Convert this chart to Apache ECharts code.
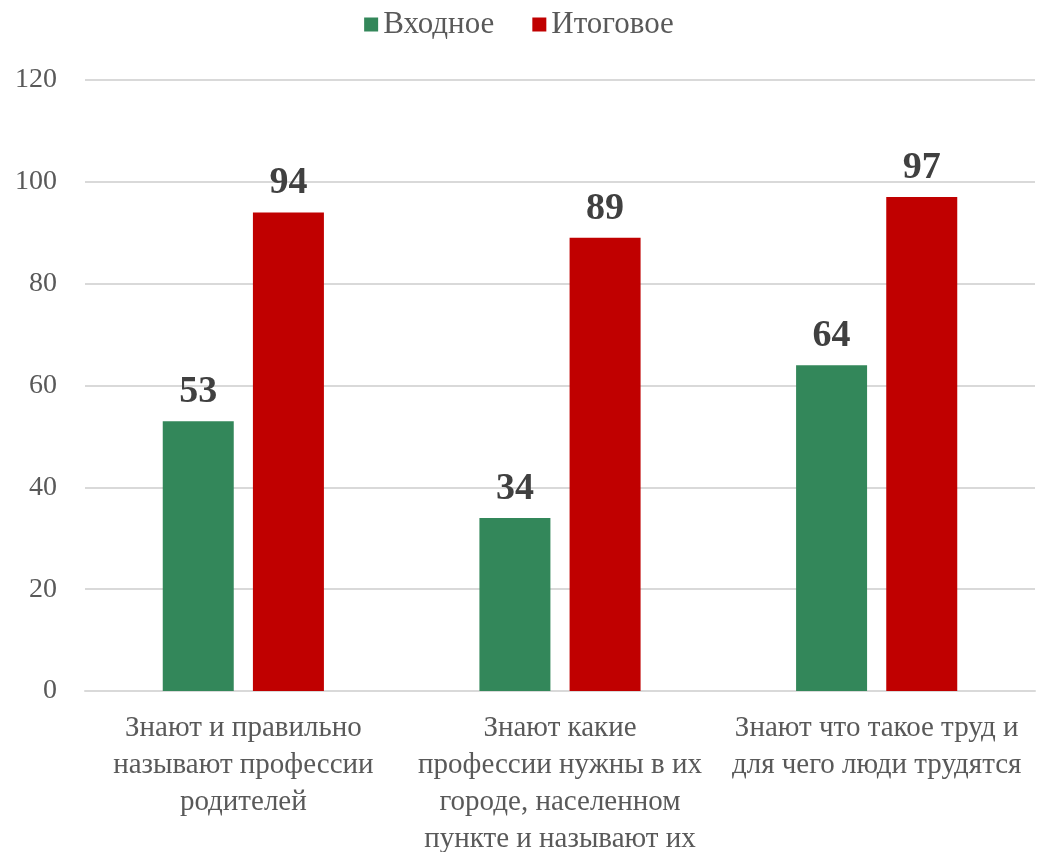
<!DOCTYPE html>
<html>
<head>
<meta charset="utf-8">
<script src="https://cdn.jsdelivr.net/npm/echarts@6/dist/echarts.min.js"></script>
<style>
  html, body { margin: 0; padding: 0; background: #fff; }
  #chart { width: 1038px; height: 852px; }
</style>
</head>
<body>
<div id="chart"></div>
<script>
const categories = [
  'Знают и правильно\nназывают профессии\nродителей',
  'Знают какие\nпрофессии нужны в их\nгороде, населенном\nпункте и называют их',
  'Знают что такое труд и\nдля чего люди трудятся'
]
const entryValues = [53, 34, 64]
const finalValues = [94, 89, 97]
const yTicks = { min: 0, max: 120, interval: 20 }

const font = 'Liberation Serif'
const chart = echarts.init(document.getElementById('chart'))

const labelStyle = {
  show: true,
  position: 'top',
  distance: 10,
  fontFamily: font,
  fontSize: 38,
  fontWeight: 'bold',
  color: '#404040'
}

chart.setOption({
  animation: false,
  textStyle: { fontFamily: font },
  legend: {
    top: 4,
    left: 'center',
    itemWidth: 14,
    itemHeight: 14,
    itemGap: 38,
    icon: 'rect',
    textStyle: { fontFamily: font, fontSize: 31, color: '#595959' },
    data: ['Входное', 'Итоговое']
  },
  grid: {
    left: 85,
    right: 3,
    top: 80,
    bottom: 161,
    outerBoundsMode: 'none'
  },
  xAxis: {
    type: 'category',
    data: categories,
    axisLine: { lineStyle: { color: '#d9d9d9', width: 2 } },
    axisTick: { show: false },
    axisLabel: {
      interval: 0,
      margin: 19,
      fontFamily: font,
      fontSize: 29,
      lineHeight: 37,
      color: '#595959'
    }
  },
  yAxis: {
    type: 'value',
    min: yTicks.min,
    max: yTicks.max,
    interval: yTicks.interval,
    axisLine: { show: false },
    axisTick: { show: false },
    axisLabel: {
      margin: 28,
      fontFamily: font,
      fontSize: 28,
      color: '#595959'
    },
    splitLine: { lineStyle: { color: '#d9d9d9', width: 2 } }
  },
  series: [
    {
      name: 'Входное',
      type: 'bar',
      data: entryValues,
      barWidth: 71,
      barGap: '27%',
      itemStyle: { color: '#33875a' },
      label: labelStyle
    },
    {
      name: 'Итоговое',
      type: 'bar',
      data: finalValues,
      barWidth: 71,
      itemStyle: { color: '#c00000' },
      label: labelStyle
    }
  ]
})
</script>
</body>
</html>
